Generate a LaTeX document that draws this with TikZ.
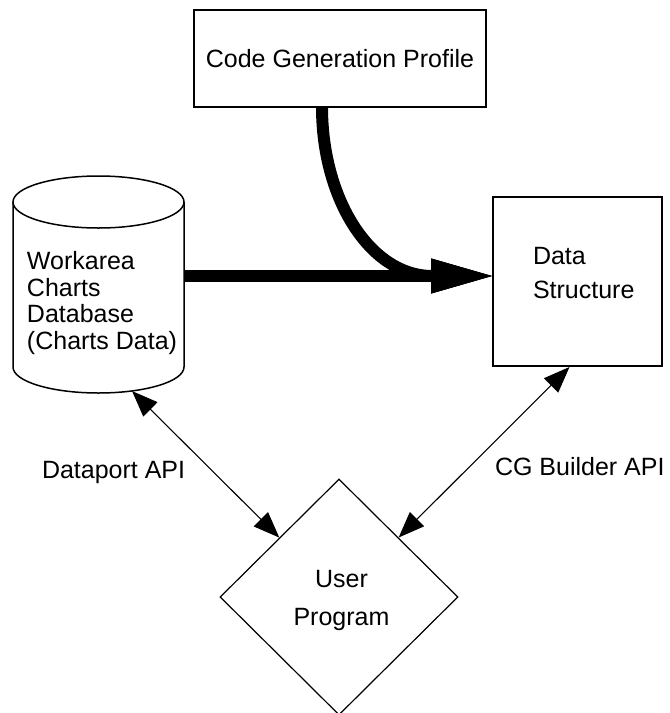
\documentclass[tikz,border=0pt]{standalone}
\usepackage{fontspec}
\setmainfont{Liberation Sans}
\usetikzlibrary{shapes.geometric,arrows.meta,calc}

\begin{document}
\begin{tikzpicture}[x=1pt,y=-1pt,
  lbl/.style={font=\fontsize{25}{27.5}\selectfont, inner sep=0pt, outer sep=0pt},
  box/.style={draw, line width=2pt, inner sep=0pt},
  api/.style={line width=1.1pt,
    {Triangle[length=26pt,width=20pt]}-{Triangle[length=26pt,width=20pt]}},
  heavy/.style={line width=12pt, -{Triangle[length=61pt,width=35pt,line width=0.5pt]}},
]
% page and its white ground
\fill[white] (0,0) rectangle (670,713);
\useasboundingbox (0,0) rectangle (670,713);

% code generation profile
\node[box, lbl, minimum width=292pt, minimum height=97pt] (cgp) at (340,58.5)
  {Code Generation Profile};

% data structure box and its caption (base anchor = last line)
\node[box, minimum width=169pt, minimum height=169pt] (ds) at (577.5,281.5) {};
\node[lbl, font=\fontsize{25}{34}\selectfont, anchor=base west, align=left]
  (dstext) at (533,298) {Data\\Structure};

% workarea charts database, drawn as an upright cylinder
\draw[line width=1.5pt]
  (13,202) -- (13,367)
  arc[start angle=180, end angle=360, x radius=85.5pt, y radius=26pt]
  -- (184,202);
\draw[line width=1.5pt] (98.5,202) ellipse [x radius=85.5pt, y radius=26pt];
\node[minimum width=171pt, minimum height=165pt, inner sep=0pt] (db) at (98.5,284.5) {};
\node[lbl, font=\fontsize{25}{26.5}\selectfont, anchor=base west, align=left]
  (dbtext) at (27,349) {Workarea\\Charts\\Database\\(Charts Data)};
\coordinate (dbport) at (132,391);

% user program
\node[draw, diamond, line width=1.2pt, inner sep=0pt, minimum width=238pt,
  minimum height=236pt] (user) at (339,597) {};
\node[lbl, font=\fontsize{25}{38}\selectfont, anchor=base, align=center]
  (usertext) at (341.5,625) {User\\Program};

% heavy flows into the data structure
\coordinate (jn) at (0,276);
\draw[heavy] ([xshift=-18pt]cgp.south) .. controls +(0,93) and +(-61,0) .. ++(110,169)
  -- (ds.west |- jn);
\draw[heavy] (db.east |- jn) -- (ds.west |- jn);

% API links
\draw[api] (dbport) -- (user);
\draw[api] ([xshift=-8pt]ds.south) -- (user);
\node[lbl, anchor=base west] (dpapi) at (42,478) {Dataport API};
\node[lbl, anchor=base west] (cgapi) at (495,475) {CG Builder API};
\end{tikzpicture}
\end{document}
